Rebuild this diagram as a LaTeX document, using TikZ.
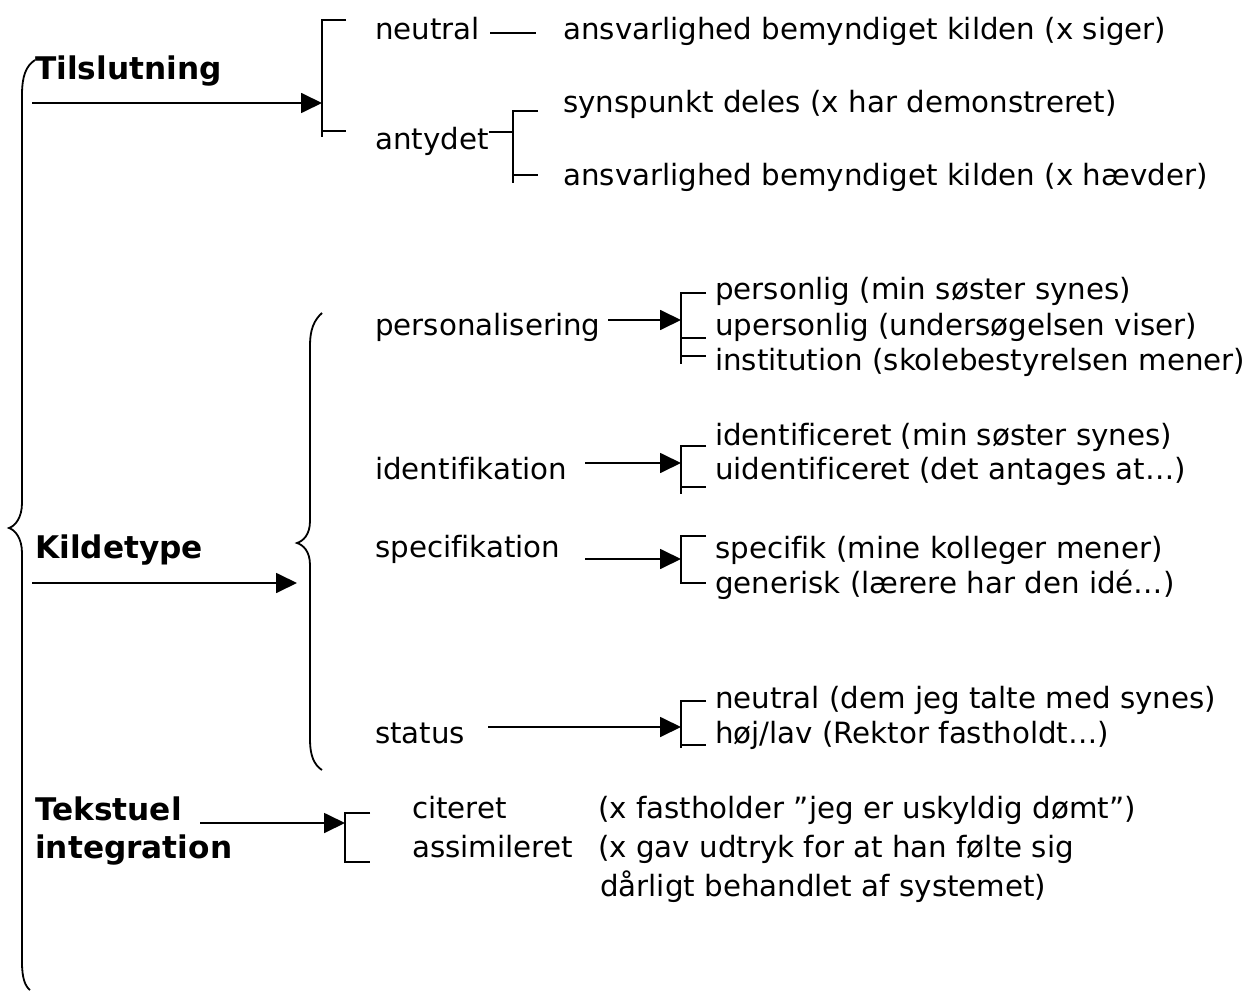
\documentclass[tikz,border=0pt]{standalone}
\usepackage{fontspec}
\setmainfont{DejaVu Sans}[Ligatures=NoCommon]
\usetikzlibrary{arrows.meta}

\begin{document}
\begin{tikzpicture}[x=1pt,y=-1pt,
  lbl/.style={anchor=base west, inner sep=0pt, font=\fontsize{29.3}{35}\selectfont},
  head/.style={anchor=base west, inner sep=0pt, font=\fontsize{31.2}{38}\selectfont\bfseries},
  rule/.style={line width=1.8pt},
  arr/.style={line width=1.8pt, -{Triangle[length=21pt,width=20pt]}},
]
\useasboundingbox (0,0) rectangle (1250,992);

% ---------- Tilslutning ----------
\node[head] (tils) at (35,80) {Tilslutning};
\node[lbl] (neu)  at (375,40)  {neutral};
\node[lbl] (neuD) at (563,40)  {ansvarlighed bemyndiget kilden (x siger)};
\node[lbl] (ant)  at (375,150) {antydet};
\node[lbl] (antA) at (563,113) {synspunkt deles (x har demonstreret)};
\node[lbl] (antB) at (563,186) {ansvarlighed bemyndiget kilden (x hævder)};

\coordinate (a1s) at (32,103);
\coordinate (b1m) at (322,103);
\draw[arr] (a1s) -- (b1m);
\draw[rule] (346,20) -- (322,20) -- (322,137);
\draw[rule] (322,131) -- (346,131);
\draw[rule] (490,33) -- (536,33);
\draw[rule] (489,132) -- (513,132);
\draw[rule] (538,111) -- (513,111) -- (513,183);
\draw[rule] (513,175) -- (538,175);

% ---------- Kildetype ----------
\node[head] (kilde) at (35,558) {Kildetype};
\coordinate (a2s) at (32,583);
\coordinate (b2m) at (297,583);
\draw[arr] (a2s) -- (b2m);

% inner brace
\draw[rule] (322,313) .. controls (314,320) and (310,330) .. (310,345)
  -- (310,521) .. controls (310,535) and (303,541) .. (297,543)
  .. controls (303,545) and (310,551) .. (310,565)
  -- (310,740) .. controls (310,755) and (314,765) .. (322,770);

\node[lbl] (pers)  at (375,335) {personalisering};
\node[lbl] (p1)    at (715,300) {personlig (min søster synes)};
\node[lbl] (p2)    at (715,335) {upersonlig (undersøgelsen viser)};
\node[lbl] (p3)    at (715,370) {institution (skolebestyrelsen mener)};
\coordinate (pa) at (608,320);
\coordinate (pb) at (681,320);
\draw[arr] (pa) -- (pb);
\draw[rule] (706,293) -- (681,293) -- (681,364);
\draw[rule] (681,338) -- (706,338);
\draw[rule] (681,356) -- (706,356);

\node[lbl] (ident) at (375,479) {identifikation};
\node[lbl] (i1)    at (715,445) {identificeret (min søster synes)};
\node[lbl] (i2)    at (715,479) {uidentificeret (det antages at…)};
\coordinate (ia) at (585,463);
\coordinate (ib) at (681,463);
\draw[arr] (ia) -- (ib);
\draw[rule] (706,446) -- (681,446) -- (681,494);
\draw[rule] (681,487) -- (706,487);

\node[lbl] (spec)  at (375,557) {specifikation};
\node[lbl] (s1)    at (715,558) {specifik (mine kolleger mener)};
\node[lbl] (s2)    at (715,593) {generisk (lærere har den idé…)};
\coordinate (sa) at (585,559);
\coordinate (sb) at (681,559);
\draw[arr] (sa) -- (sb);
\draw[rule] (706,536) -- (681,536) -- (681,583) -- (706,583);

\node[lbl] (stat)  at (375,743) {status};
\node[lbl] (t1)    at (715,708) {neutral (dem jeg talte med synes)};
\node[lbl] (t2)    at (715,743) {høj/lav (Rektor fastholdt…)};
\coordinate (ta) at (488,727);
\coordinate (tb) at (681,727);
\draw[arr] (ta) -- (tb);
\draw[rule] (706,701) -- (681,701) -- (681,748);
\draw[rule] (681,745) -- (706,745);

% ---------- Tekstuel integration ----------
\node[head] (tek)   at (35,820) {Tekstuel};
\node[head] (integ) at (35,858) {integration};
\node[lbl] (cit)   at (412,818) {citeret};
\node[lbl] (citD)  at (598,818) {(x fastholder ”jeg er uskyldig dømt”)};
\node[lbl] (ass)   at (412,857) {assimileret};
\node[lbl] (assD)  at (598,857) {(x gav udtryk for at han følte sig};
\node[lbl] (assD2) at (600,896) {dårligt behandlet af systemet)};
\coordinate (xa) at (200,823);
\coordinate (xb) at (345,823);
\draw[arr] (xa) -- (xb);
\draw[rule] (370,813) -- (345,813) -- (345,862) -- (370,862);

% outer brace
\draw[rule] (35,60) .. controls (26,66) and (22,76) .. (22,95)
  -- (22,503) .. controls (22,518) and (15,526) .. (9,528)
  .. controls (15,530) and (22,538) .. (22,553)
  -- (22,962) .. controls (22,978) and (25,986) .. (30,990);
\end{tikzpicture}
\end{document}
